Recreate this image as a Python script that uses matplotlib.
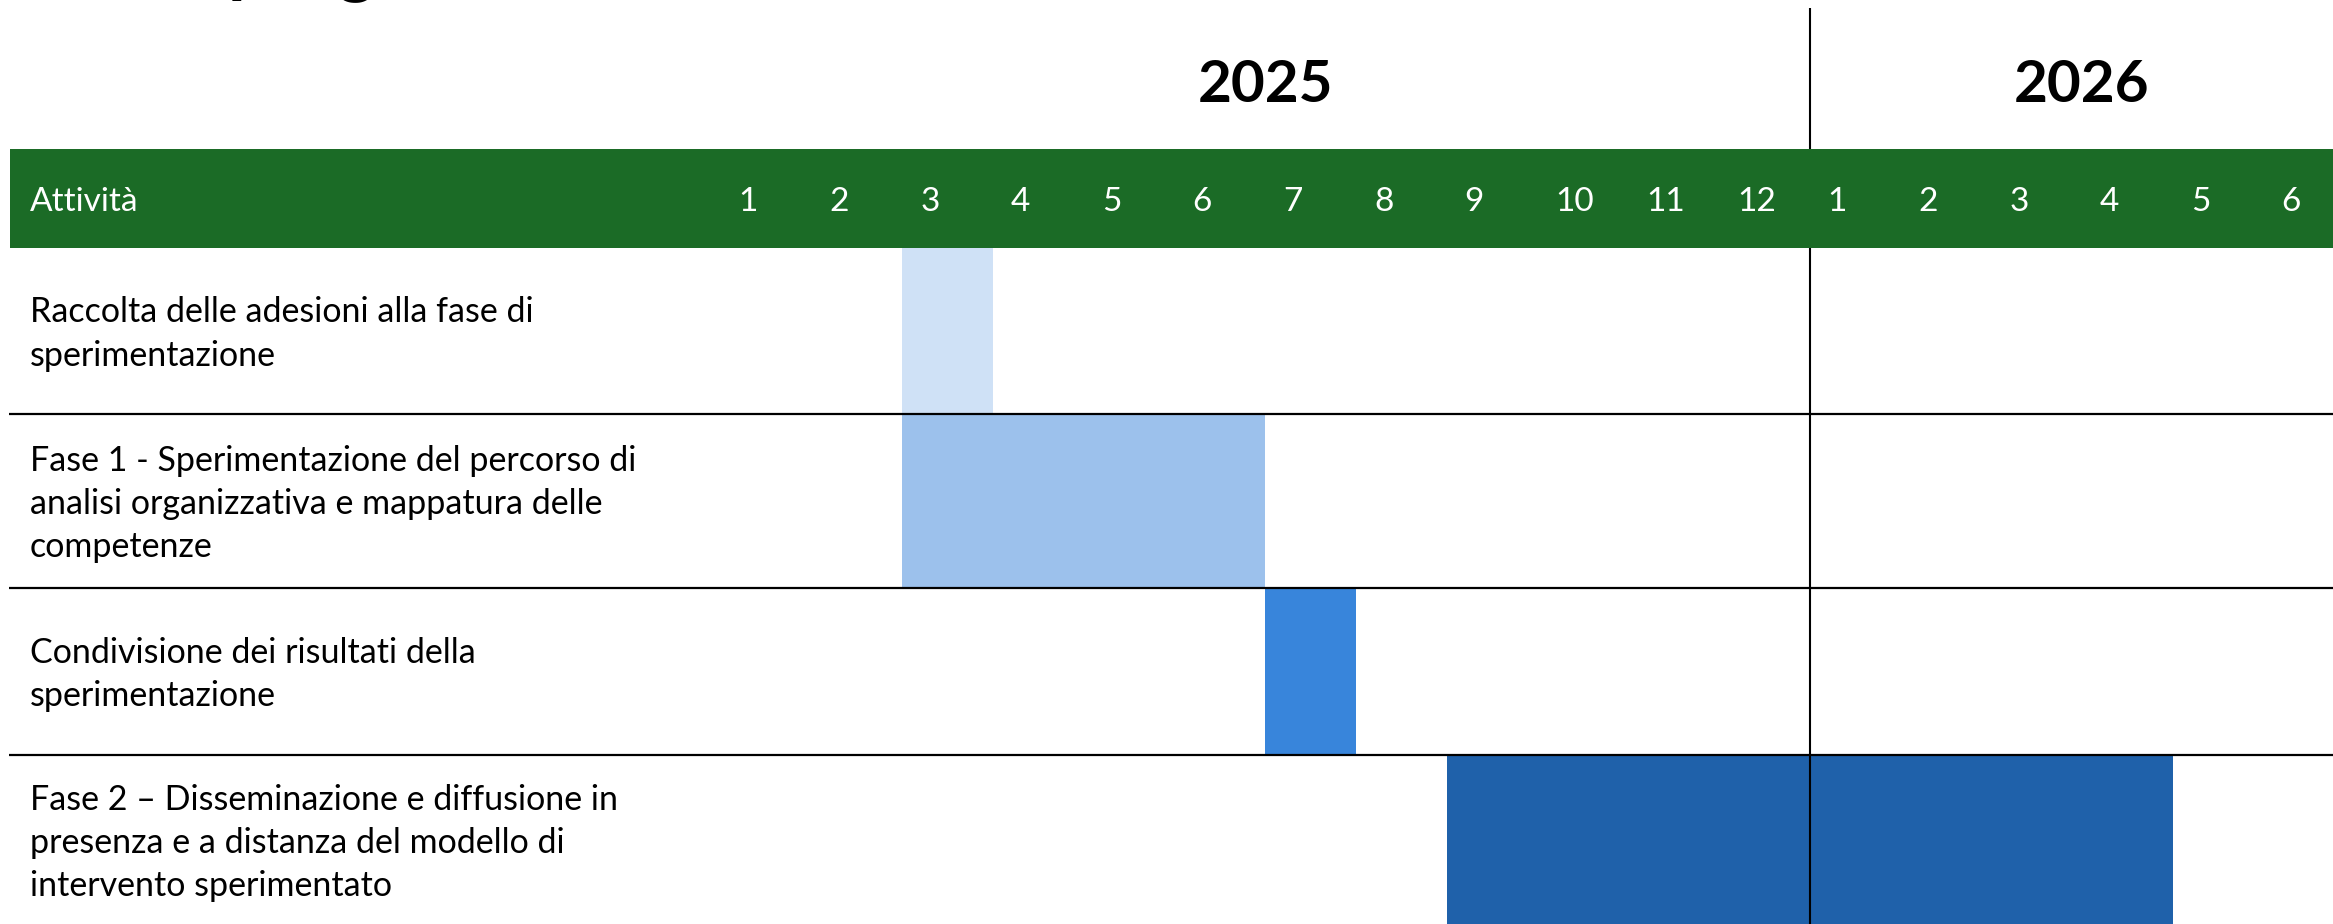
import matplotlib.pyplot as plt

plt.rcParams['font.family'] = ['Lato', 'DejaVu Sans']

# Gantt data
activities = [
    "Raccolta delle adesioni alla fase di\nsperimentazione",
    "Fase 1 - Sperimentazione del percorso di\nanalisi organizzativa e mappatura delle\ncompetenze",
    "Condivisione dei risultati della\nsperimentazione",
    "Fase 2 – Disseminazione e diffusione in\npresenza e a distanza del modello di\nintervento sperimentato",
]
start_month = [3, 3, 7, 9]      # months counted from January 2025
duration = [1, 4, 1, 8]         # months
bar_colors = ["#cfe1f6", "#9cc1ec", "#3885db", "#1f61aa"]
month_labels = ["1", "2", "3", "4", "5", "6", "7", "8", "9", "10", "11", "12",
                "1", "2", "3", "4", "5", "6"]
years = ["2025", "2026"]
months_per_year = [12, 6]
title = "Cronoprogramma"

# layout (pixels on a 2333x924 canvas)
W, H = 2333, 924
col_px = 90.75
first_col_px = 720.5
row_edges = [248, 414, 588, 755, 925]
band_top, band_bottom = 149, 248
green = "#1b6b26"

def px2m(p):
    return (p - first_col_px) / col_px

fig = plt.figure(figsize=(W / 100, H / 100), dpi=100)
ax = fig.add_axes([0, 0, 1, 1])
ax.set_xlim(px2m(0), px2m(W))
ax.set_ylim(H, 0)
ax.axis('off')

# activity bars
for i in range(len(activities)):
    top, bot = row_edges[i], row_edges[i + 1]
    ax.barh((top + bot) / 2, duration[i], left=start_month[i] - 1,
            height=bot - top, color=bar_colors[i], zorder=1)
    ax.text(px2m(30), (top + bot) / 2 + 3, activities[i], ha='left', va='center',
            fontsize=24.5, linespacing=1.43, color='black', zorder=5)

# row separators
ax.hlines(row_edges[1:-1], px2m(9), px2m(W), color='black', lw=1.6, zorder=4)

# year boundary
ax.vlines(months_per_year[0], 8, H, color='black', lw=1.5, zorder=2)

# header band
ax.barh((band_top + band_bottom) / 2, px2m(W) - px2m(10), left=px2m(10),
        height=band_bottom - band_top, color=green, zorder=3)
ax.text(px2m(30), 211, "Attività", color='white', fontsize=24,
        ha='left', va='baseline', zorder=5)
for j, lab in enumerate(month_labels):
    ax.text(j + 0.2, 211, lab, color='white', fontsize=24,
            ha='left', va='baseline', zorder=5)

# year labels, centred over the months of each year
offset = 0
for y, n in zip(years, months_per_year):
    ax.text(offset + n / 2, 102, y, fontsize=42, fontweight='bold',
            ha='center', va='baseline', zorder=5)
    offset += n

# title, cut off by the top edge as in the original slide
ax.text(px2m(30), -12, title, fontsize=52, fontweight='bold',
        ha='left', va='baseline', clip_on=False)

fig.savefig("out.png", dpi=100)
